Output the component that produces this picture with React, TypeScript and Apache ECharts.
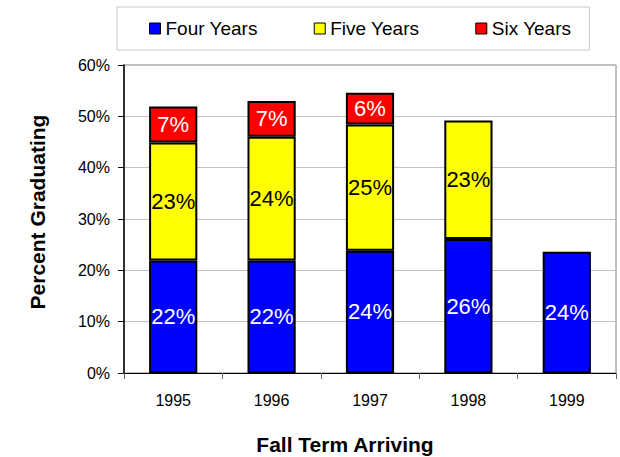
import React, { useEffect, useRef } from "react";
import * as echarts from "echarts";

const categories = ["1995", "1996", "1997", "1998", "1999"];
const fourYears = [21.9, 21.9, 23.8, 26.1, 23.6];
const fiveYears = [23.0, 24.1, 24.6, 23.1, null];
const sixYears = [7.0, 7.0, 6.2, null, null];
const seriesNames = ["Four Years", "Five Years", "Six Years"];
const yTicks = { min: 0, max: 60, interval: 10 };
const xTitle = "Fall Term Arriving";
const yTitle = "Percent Graduating";

const FONT = "'Liberation Sans', Arial, sans-serif";

export default function App() {
  const ref = useRef<HTMLDivElement>(null);
  useEffect(() => {
    if (!ref.current) return;
    const chart = echarts.init(ref.current, undefined, { renderer: "svg" });
    const fmt = (p: any) => (p.value == null ? "" : Math.round(p.value) + "%");
    const mkSeries = (name: string, data: any[], color: string, labelColor: string) => ({
      name,
      type: "bar",
      stack: "total",
      data,
      barWidth: "49%",
      itemStyle: { color, borderColor: "#000", borderWidth: 2 },
      label: {
        show: true,
        position: "inside",
        formatter: fmt,
        color: labelColor,
        fontSize: 22,
        fontFamily: FONT,
        textBorderWidth: 0,
      },
    });
    chart.setOption({
      animation: false,
      textStyle: { fontFamily: FONT },
      legend: {
        left: 117,
        top: 7,
        data: seriesNames,
        icon: "rect",
        itemWidth: 11,
        itemHeight: 11,
        itemGap: 56,
        padding: [12, 18, 12, 32],
        borderColor: "#c8c8c8",
        borderWidth: 1,
        itemStyle: { borderColor: "#000", borderWidth: 1 },
        textStyle: { fontSize: 19, color: "#000", fontFamily: FONT },
      },
      grid: {
        left: 124,
        right: 4,
        top: 65,
        bottom: 84,
        show: true,
        borderColor: "#808080",
        borderWidth: 1,
        backgroundColor: "transparent",
      },
      xAxis: {
        type: "category",
        data: categories,
        axisLine: { lineStyle: { color: "#000", width: 1 } },
        axisTick: { show: true, length: 6, lineStyle: { color: "#666" } },
        axisLabel: { color: "#000", fontSize: 16, margin: 19, fontFamily: FONT },
      },
      yAxis: {
        type: "value",
        min: yTicks.min,
        max: yTicks.max,
        interval: yTicks.interval,
        axisLine: { show: true, lineStyle: { color: "#000", width: 1.5 } },
        axisTick: { show: true, length: 6, lineStyle: { color: "#000" } },
        axisLabel: { color: "#000", fontSize: 16, margin: 14, formatter: "{value}%", fontFamily: FONT },
        splitLine: { show: true, lineStyle: { color: "#c0c0c0", width: 1 } },
      },
      graphic: [
        {
          type: "text",
          x: 345,
          y: 444,
          style: {
            text: xTitle,
            fontSize: 21,
            fontWeight: "bold",
            fontFamily: FONT,
            fill: "#000",
            align: "center",
            verticalAlign: "middle",
          },
        },
        {
          type: "text",
          x: 37,
          y: 212,
          rotation: Math.PI / 2,
          style: {
            text: yTitle,
            fontSize: 21,
            fontWeight: "bold",
            fontFamily: FONT,
            fill: "#000",
            align: "center",
            verticalAlign: "middle",
          },
        },
      ],
      series: [
        mkSeries(seriesNames[0], fourYears, "#0000ff", "#fff"),
        mkSeries(seriesNames[1], fiveYears, "#ffff00", "#000"),
        mkSeries(seriesNames[2], sixYears, "#ff0000", "#fff"),
      ],
    });
    return () => chart.dispose();
  }, []);
  return (
    <div
      ref={ref}
      style={{ position: "fixed", left: 0, top: 0, width: 620, height: 457, background: "#fff" }}
    />
  );
}
